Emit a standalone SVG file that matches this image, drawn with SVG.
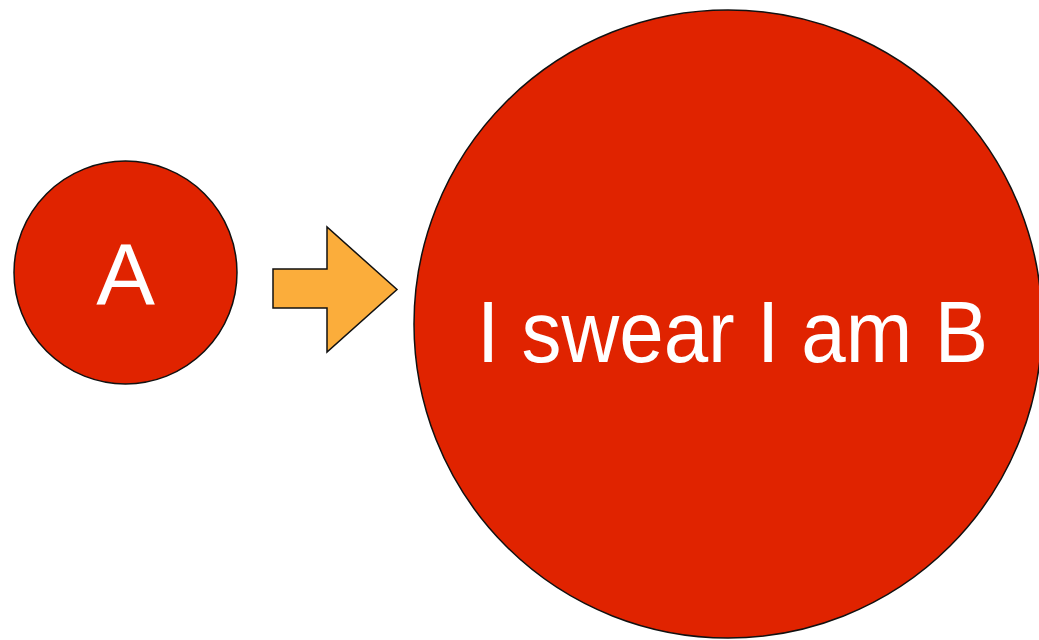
<svg xmlns="http://www.w3.org/2000/svg" width="1039" height="640" viewBox="0 0 1039 640">
<style>
.node{fill:#E02300;stroke:#111;stroke-width:1.5}
.lbl{fill:#fff;font-family:"Liberation Sans",Arial,sans-serif;text-anchor:middle}
.arrow{fill:#FBAD3B;stroke:#111;stroke-width:1.5;stroke-linejoin:miter}
</style>
<rect width="1039" height="640" fill="#fff"/>
<g id="nodeA">
<circle class="node" cx="125.5" cy="272.5" r="111.5"/>
<text class="lbl" x="125.5" y="305" font-size="88">A</text>
</g>
<g id="connectors">
<polygon class="arrow" points="273,269 327,269 327,227 397,289.5 327,352 327,308 273,308"/>
</g>
<g id="nodeB">
<circle class="node" cx="728" cy="324" r="314"/>
<text class="lbl" x="732.5" y="362" font-size="88" textLength="511" lengthAdjust="spacingAndGlyphs">I swear I am B</text>
</g>
</svg>
